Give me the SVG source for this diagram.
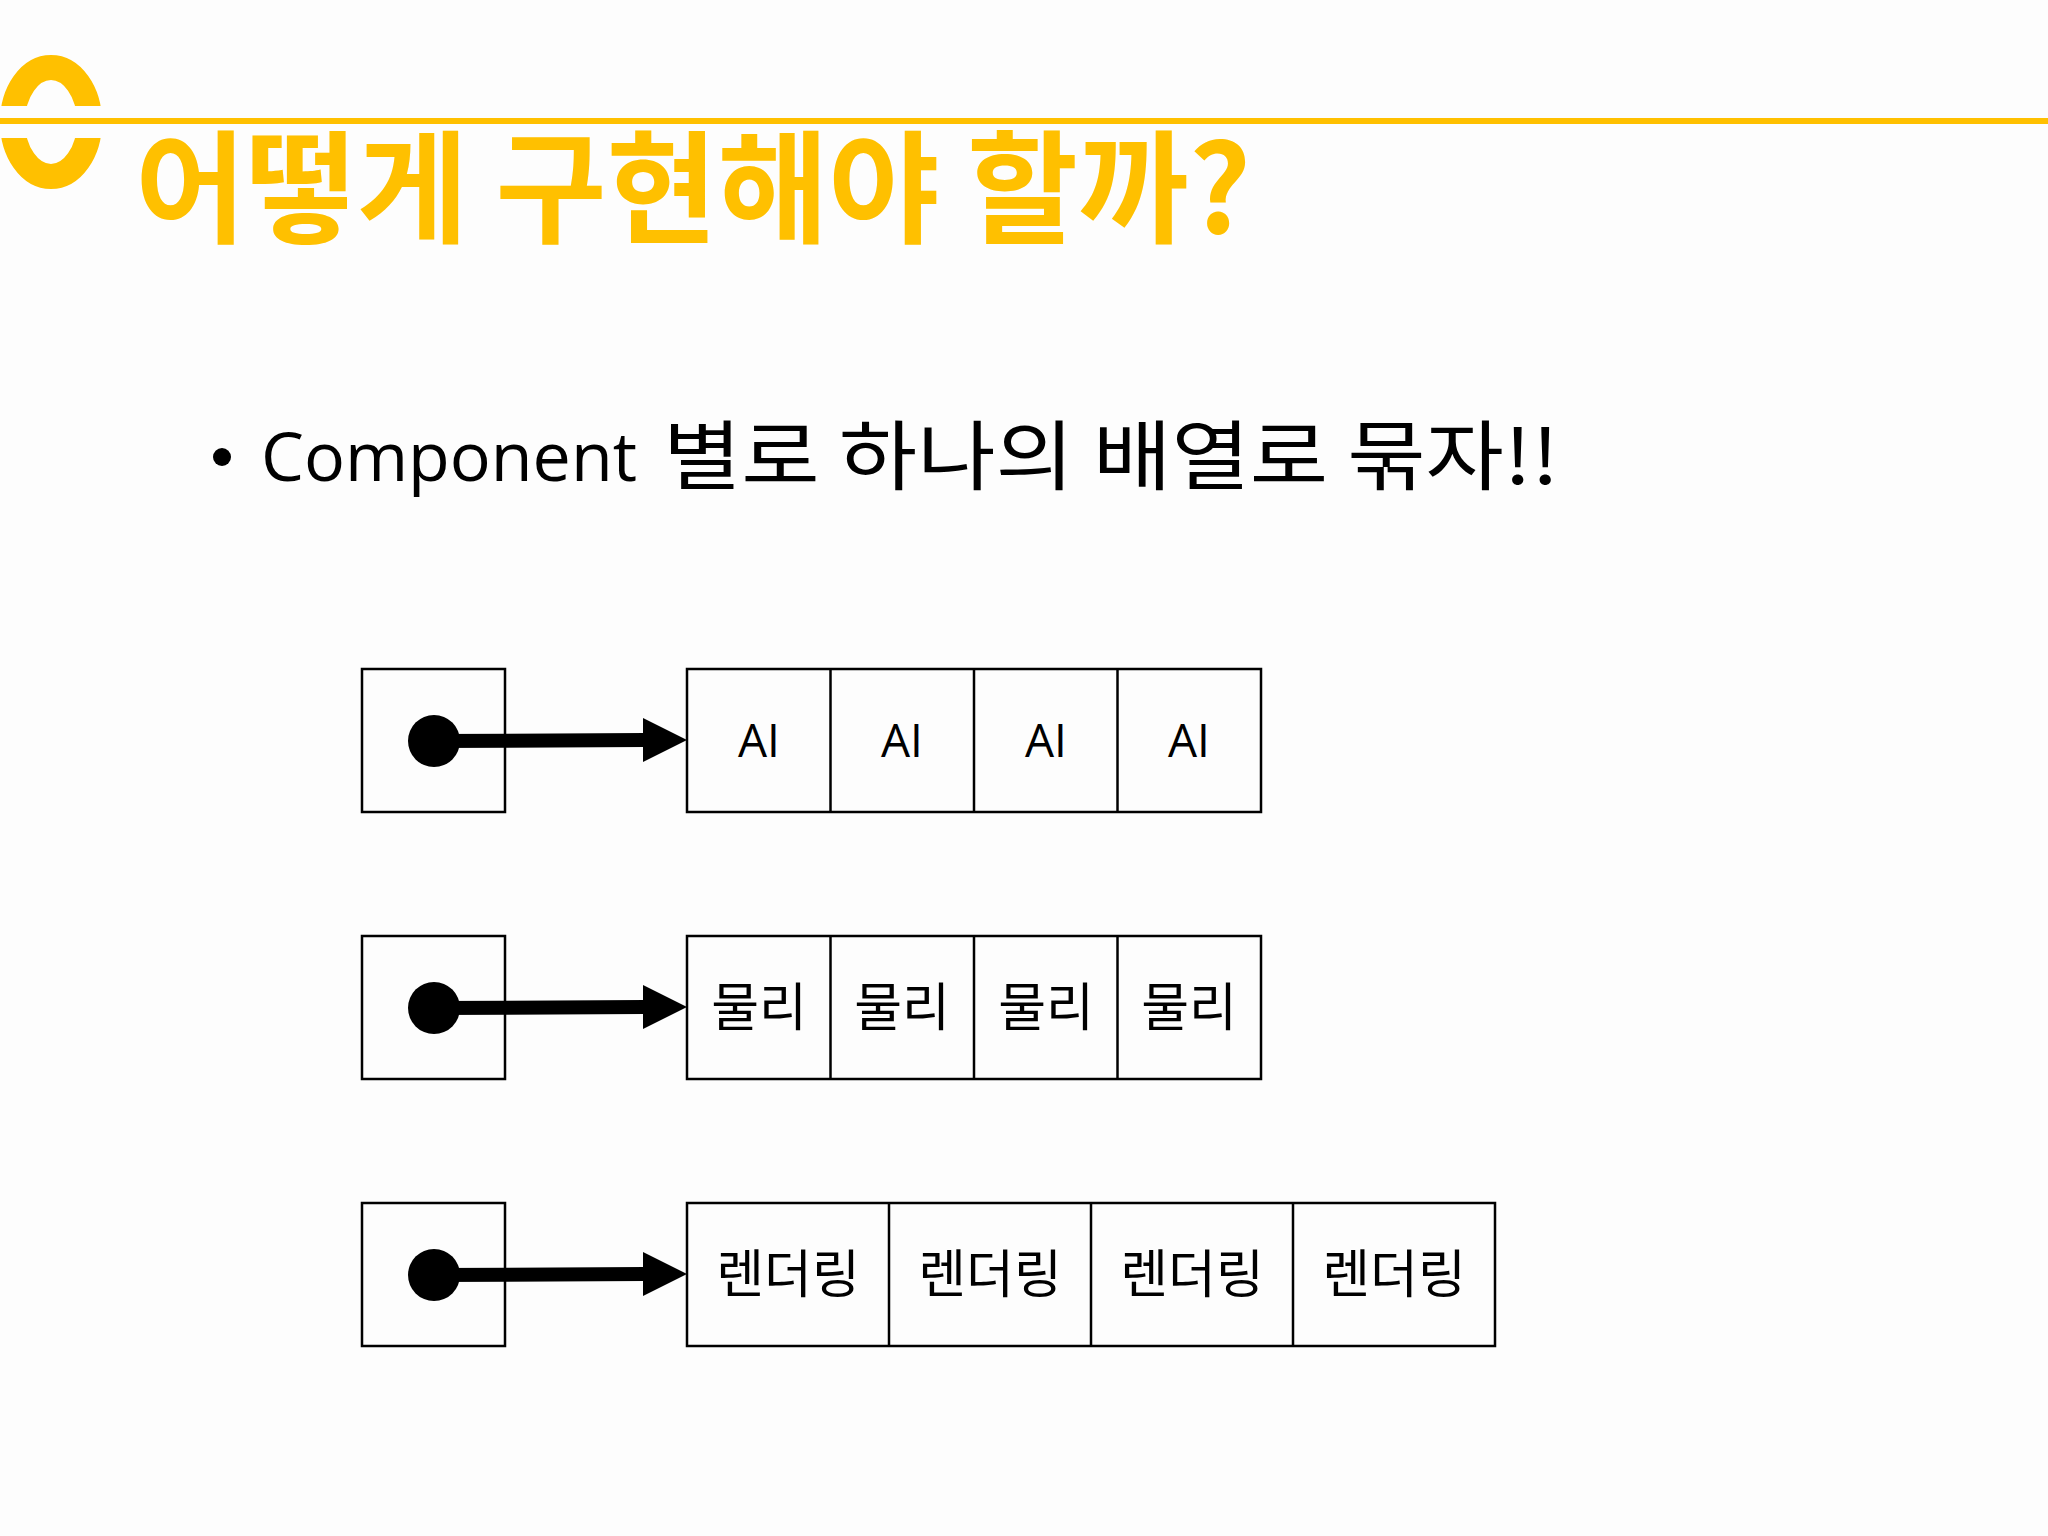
<svg xmlns="http://www.w3.org/2000/svg" width="2048" height="1536" viewBox="0 0 2048 1536">
<style>
.box{fill:none;stroke:#000;stroke-width:2.5}
.div{stroke:#000;stroke-width:2.5}
.lbl{font-family:"Open Sans","Noto Sans CJK KR",sans-serif;font-size:46px;fill:#000;text-anchor:middle}
.kl{font-family:"Noto Sans CJK KR",sans-serif;font-size:52px;fill:#000;text-anchor:middle}
.shaft{stroke:#000;stroke-width:14;fill:none}
.head{fill:#000}
</style>
<rect x="0" y="0" width="2048" height="1536" fill="#fdfdfd"/>
<g id="header">
<ellipse cx="51" cy="122" rx="38.5" ry="54.5" fill="none" stroke="#FFC000" stroke-width="25"/>
<rect x="0" y="106" width="110" height="32" fill="#fdfdfd"/>
<rect x="0" y="118" width="2048" height="6" fill="#FFC000"/>
<text x="135" y="233" font-family="Noto Sans CJK KR,sans-serif" font-weight="bold" font-size="122" fill="#FFC000" textLength="1116" lengthAdjust="spacingAndGlyphs">어떻게 구현해야 할까?</text>
</g>
<g id="bullet">
<circle cx="222" cy="457" r="9" fill="#000"/>
<text x="261" y="481" font-family="Open Sans,Noto Sans CJK KR,sans-serif" font-size="68" fill="#000" textLength="376" lengthAdjust="spacingAndGlyphs">Component</text>
<text x="663" y="484" font-family="Noto Sans CJK KR,sans-serif" font-size="76" fill="#000" textLength="896" lengthAdjust="spacingAndGlyphs">별로 하나의 배열로 묶자!!</text>
</g>
<g id="ptr1"><rect class="box" x="362" y="669" width="143" height="143"/><circle cx="434" cy="741" r="26"/></g>
<g id="ptr2"><rect class="box" x="362" y="936" width="143" height="143"/><circle cx="434" cy="1008" r="26"/></g>
<g id="ptr3"><rect class="box" x="362" y="1203" width="143" height="143"/><circle cx="434" cy="1275" r="26"/></g>
<g id="arr-ai">
<rect class="box" x="687" y="669" width="574" height="143"/>
<line class="div" x1="830.5" y1="669" x2="830.5" y2="812"/>
<line class="div" x1="974" y1="669" x2="974" y2="812"/>
<line class="div" x1="1117.5" y1="669" x2="1117.5" y2="812"/>
<text class="lbl" x="759" y="757">AI</text>
<text class="lbl" x="902" y="757">AI</text>
<text class="lbl" x="1046" y="757">AI</text>
<text class="lbl" x="1189" y="757">AI</text>
</g>
<g id="arr-phys">
<rect class="box" x="687" y="936" width="574" height="143"/>
<line class="div" x1="830.5" y1="936" x2="830.5" y2="1079"/>
<line class="div" x1="974" y1="936" x2="974" y2="1079"/>
<line class="div" x1="1117.5" y1="936" x2="1117.5" y2="1079"/>
<text class="kl" x="759" y="1026">물리</text>
<text class="kl" x="902" y="1026">물리</text>
<text class="kl" x="1046" y="1026">물리</text>
<text class="kl" x="1189" y="1026">물리</text>
</g>
<g id="arr-render">
<rect class="box" x="687" y="1203" width="808" height="143"/>
<line class="div" x1="889" y1="1203" x2="889" y2="1346"/>
<line class="div" x1="1091" y1="1203" x2="1091" y2="1346"/>
<line class="div" x1="1293" y1="1203" x2="1293" y2="1346"/>
<text class="kl" x="788" y="1293">렌더링</text>
<text class="kl" x="990" y="1293">렌더링</text>
<text class="kl" x="1192" y="1293">렌더링</text>
<text class="kl" x="1394" y="1293">렌더링</text>
</g>
<g id="connectors">
<line class="shaft" x1="434" y1="741" x2="645" y2="740"/>
<path class="head" d="M643,718 L687,740 L643,762 Z"/>
<line class="shaft" x1="434" y1="1008" x2="645" y2="1007"/>
<path class="head" d="M643,985 L687,1007 L643,1029 Z"/>
<line class="shaft" x1="434" y1="1275" x2="645" y2="1274"/>
<path class="head" d="M643,1252 L687,1274 L643,1296 Z"/>
</g>
</svg>
